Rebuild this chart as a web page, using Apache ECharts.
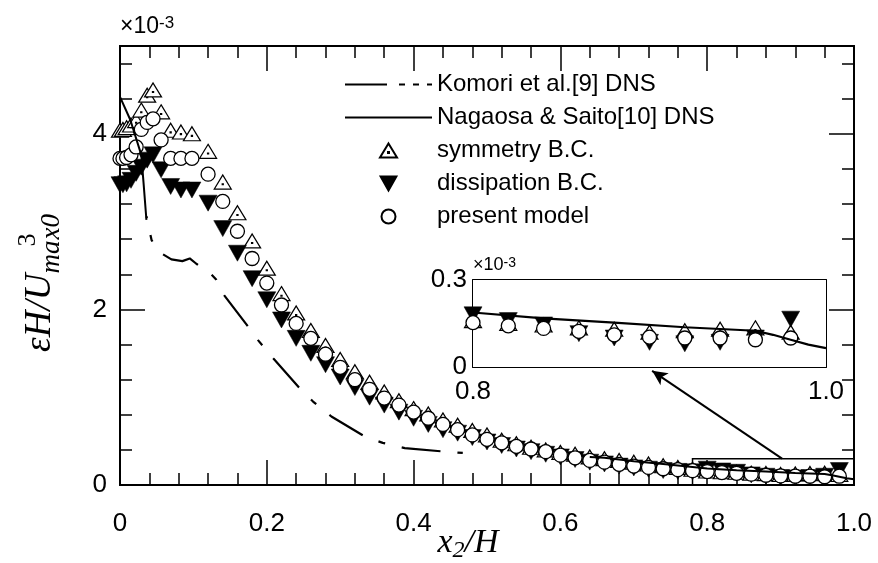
<!DOCTYPE html>
<html><head><meta charset="utf-8">
<script src="https://cdn.jsdelivr.net/npm/echarts@6/dist/echarts.min.js"></script>
<style>html,body{margin:0;padding:0;background:#fff}#c{width:878px;height:563px}</style>
</head><body><div id="c"></div>
<script>
// ---- data (values in units of 1e-3) ----
const xGrid = [0, 0.004, 0.009, 0.015, 0.022, 0.029, 0.037, 0.045, 0.056, 0.069, 0.083, 0.098,
  0.12, 0.14, 0.16, 0.18, 0.20, 0.22, 0.24, 0.26, 0.28, 0.30,
  0.32, 0.34, 0.36, 0.38, 0.40, 0.42, 0.44, 0.46, 0.48, 0.50,
  0.52, 0.54, 0.56, 0.58, 0.60, 0.62, 0.64, 0.66, 0.68, 0.70,
  0.72, 0.74, 0.76, 0.78, 0.80, 0.82, 0.84, 0.86, 0.88, 0.90,
  0.92, 0.94, 0.96, 0.98];
const symmetryBC = [4.04, 4.05, 4.07, 4.10, 4.15, 4.27, 4.44, 4.50, 4.25, 4.04, 4.02, 4.00,
  3.80, 3.45, 3.10, 2.78, 2.47, 2.18, 1.96, 1.76, 1.59, 1.43,
  1.29, 1.17, 1.06, 0.96, 0.87, 0.81, 0.74, 0.68, 0.62, 0.57,
  0.51, 0.47, 0.43, 0.40, 0.37, 0.35, 0.32, 0.30, 0.28, 0.26,
  0.24, 0.22, 0.20, 0.18, 0.16, 0.15, 0.145, 0.135, 0.13, 0.12,
  0.125, 0.13, 0.135, 0.12];
const dissipationBC = [3.42, 3.42, 3.43, 3.47, 3.55, 3.62, 3.70, 3.76, 3.59, 3.40, 3.36, 3.36,
  3.21, 2.92, 2.64, 2.35, 2.11, 1.88, 1.67, 1.50, 1.37, 1.23,
  1.11, 1.00, 0.91, 0.83, 0.76, 0.69, 0.63, 0.59, 0.54, 0.49,
  0.45, 0.41, 0.38, 0.35, 0.32, 0.29, 0.26, 0.24, 0.215, 0.195,
  0.18, 0.165, 0.155, 0.15, 0.18, 0.16, 0.145, 0.115, 0.10, 0.085,
  0.08, 0.085, 0.10, 0.165];
const presentModel = [3.72, 3.72, 3.73, 3.76, 3.85, 4.05, 4.13, 4.17, 3.93, 3.72, 3.72, 3.72,
  3.54, 3.23, 2.89, 2.58, 2.30, 2.05, 1.84, 1.67, 1.49, 1.34,
  1.20, 1.09, 0.99, 0.91, 0.83, 0.76, 0.69, 0.63, 0.57, 0.52,
  0.48, 0.44, 0.41, 0.38, 0.34, 0.31, 0.28, 0.26, 0.235, 0.215,
  0.20, 0.185, 0.175, 0.163, 0.153, 0.142, 0.133, 0.123, 0.111, 0.103,
  0.100, 0.100, 0.094, 0.100];
const komoriX = [0.036, 0.043, 0.054, 0.070, 0.085, 0.095, 0.104, 0.123, 0.131, 0.142, 0.173, 0.188,
  0.209, 0.245, 0.263, 0.288, 0.334, 0.358, 0.388, 0.443, 0.467];
const komoriY = [3.06, 2.79, 2.65, 2.57, 2.55, 2.58, 2.52, 2.41, 2.34, 2.16, 1.82, 1.65,
  1.44, 1.10, 0.95, 0.78, 0.55, 0.48, 0.42, 0.38, 0.365];
const nagaosaX = [0, 0.014, 0.029, 0.032, 0.036, 0.30, 0.64, 0.66, 0.70, 0.74, 0.78, 0.80, 0.84, 0.88, 0.92, 0.96, 0.97, 0.98, 0.99, 1.00];
const nagaosaY = [4.42, 4.16, 3.76, 3.45, 3.02, null, 0.32, 0.31, 0.27, 0.24, 0.205, 0.188, 0.168, 0.153, 0.137, 0.125, 0.111, 0.094, 0.077, 0.065];
const xTickLabels = ['0', '0.2', '0.4', '0.6', '0.8', '1.0'];
const yTickLabels = ['0', '2', '4'];
const insetXTickLabels = ['0.8', '1.0'];
const insetYTickLabels = ['0', '0.3'];
const seriesNames = ['Komori et al.[9] DNS', 'Nagaosa & Saito[10] DNS', 'symmetry B.C.', 'dissipation B.C.', 'present model'];

// ---- build ----
const SANS = '"Liberation Sans", Arial, Helvetica, sans-serif';
const SERIF = '"Liberation Serif", "Times New Roman", serif';
const pts = ys => xGrid.map((x, i) => [x, ys[i]]);
const insetPts = ys => pts(ys).filter(p => p[0] >= 0.799);
const nagaosa = nagaosaX.map((x, i) => [x, nagaosaY[i] == null ? '-' : nagaosaY[i]]);
const komori = komoriX.map((x, i) => [x, komoriY[i]]);

const SYM_UP = 'path://M8.5,0 L17,14 L0,14 Z M8,8.6 L9,8.6 L9,9.6 L8,9.6 Z';
const SYM_DOWN = 'path://M0,0 L18,0 L9,16 Z';
const ICON_KOMORI = 'path://M0,0 L42,0 L42,2 L0,2 Z M54,0 L60,0 L60,2 L54,2 Z M68,0 L74,0 L74,2 L68,2 Z M82,0 L87,0 L87,2 L82,2 Z';
const ICON_NAGAOSA = 'path://M0,0 L87,0 L87,2 L0,2 Z';
const black = '#000';
const axLine = {show: true, onZero: false, lineStyle: {color: black, width: 2}};
const tick = len => ({show: true, inside: true, length: len, lineStyle: {color: black, width: 1.5}});
const noSplit = {show: false};

function mainX(pos, showLabel) {
  return {type: 'value', gridIndex: 0, position: pos, min: 0, max: 1, interval: 0.2,
    axisLine: axLine, axisTick: tick(25),
    minorTick: {show: true, splitNumber: 5, length: 12, lineStyle: {color: black, width: 1.5}},
    splitLine: noSplit, minorSplitLine: noSplit,
    axisLabel: showLabel ? {show: true, margin: 26, color: black, fontFamily: SANS, fontSize: 26,
      formatter: v => xTickLabels[Math.round(v / 0.2)] || ''} : {show: false}};
}
function mainY(pos, interval, len, extra) {
  return Object.assign({type: 'value', gridIndex: 0, position: pos, min: 0, max: 5, interval: interval,
    axisLine: axLine, axisTick: tick(len), splitLine: noSplit, axisLabel: {show: false}}, extra || {});
}
function insetX(pos, showLabel) {
  return {type: 'value', gridIndex: 1, position: pos, min: 0.8, max: 1.0, interval: 0.04,
    axisLine: axLine, axisTick: tick(6), splitLine: noSplit,
    axisLabel: showLabel ? {show: true, margin: 12, color: black, fontFamily: SANS, fontSize: 26,
      showMinLabel: true, showMaxLabel: true,
      formatter: v => Math.abs(v - 0.8) < 1e-6 ? insetXTickLabels[0] : (Math.abs(v - 1) < 1e-6 ? insetXTickLabels[1] : '')} : {show: false}};
}
function insetY(pos, showLabel, extra) {
  return Object.assign({type: 'value', gridIndex: 1, position: pos, min: 0, max: 0.3, interval: 0.1,
    axisLine: axLine, axisTick: tick(6), splitLine: noSplit,
    axisLabel: showLabel ? {show: true, margin: 6, color: black, fontFamily: SANS, fontSize: 26,
      showMinLabel: true, showMaxLabel: true,
      formatter: v => Math.abs(v) < 1e-6 ? insetYTickLabels[0] : (Math.abs(v - 0.3) < 1e-6 ? insetYTickLabels[1] : '')} : {show: false}}, extra || {});
}
const expName = (size) => ({
  nameLocation: 'end', nameMoveOverlap: false,
  nameTextStyle: {align: 'left', color: black, fontFamily: SANS, fontSize: size,
    rich: {s: {fontFamily: SANS, fontSize: Math.round(size * 0.75), verticalAlign: 'top', lineHeight: size, padding: [0, 0, 6, 0]}}}
});

const scatterStyle = {
  up: {symbol: SYM_UP, symbolSize: [17, 14], itemStyle: {color: '#fff', borderColor: black, borderWidth: 1.2, opacity: 1}},
  down: {symbol: SYM_DOWN, symbolSize: [18, 16], itemStyle: {color: black, borderColor: black, borderWidth: 0.5, opacity: 1}},
  circ: {symbol: 'circle', symbolSize: 14, itemStyle: {color: '#fff', borderColor: black, borderWidth: 1.3, opacity: 1}}
};
function scatter(name, data, st, xi, yi, z) {
  return Object.assign({type: 'scatter', name: name, data: data, xAxisIndex: xi, yAxisIndex: yi, z: z,
    clip: false, silent: true}, st);
}

const option = {
  animation: false,
  backgroundColor: '#fff',
  grid: [
    {left: 120, top: 46, width: 734, height: 439, outerBoundsMode: 'none', containLabel: false},
    {left: 473, top: 280, width: 353, height: 87, outerBoundsMode: 'none', containLabel: false,
      show: true, backgroundColor: '#fff', borderWidth: 0, z: 10}
  ],
  legend: {
    orient: 'vertical', left: 340, top: 67, itemWidth: 87, itemHeight: 14, itemGap: 8,
    selectedMode: false, symbolKeepAspect: true,
    textStyle: {color: black, fontFamily: SANS, fontSize: 24, lineHeight: 25, padding: [0, 0, 0, 0]},
    data: [
      {name: seriesNames[0], icon: ICON_KOMORI, itemStyle: {color: black, borderWidth: 0}},
      {name: seriesNames[1], icon: ICON_NAGAOSA, itemStyle: {color: black, borderWidth: 0}},
      {name: seriesNames[2]},
      {name: seriesNames[3]},
      {name: seriesNames[4]}
    ]
  },
  xAxis: [
    Object.assign(mainX('bottom', true), {
      name: '{it|x}{sb|2}{it|/H}', nameLocation: 'middle', nameGap: 38, nameMoveOverlap: false,
      nameTextStyle: {padding: [0, 38, 0, 0], rich: {
        it: {fontFamily: SERIF, fontStyle: 'italic', fontSize: 34, lineHeight: 40, verticalAlign: 'middle', color: black},
        sb: {fontFamily: SERIF, fontStyle: 'italic', fontSize: 24, lineHeight: 24, verticalAlign: 'bottom', color: black}}}
    }),
    mainX('top', false),
    insetX('bottom', true),
    insetX('top', false)
  ],
  yAxis: [
    mainY('left', 2, 25, {
      axisLabel: {show: true, margin: 13, color: black, fontFamily: SANS, fontSize: 26,
        formatter: v => (v === 5 ? '' : (yTickLabels[Math.round(v / 2)] || ''))},
      name: '{it|\u03b5H/U}{sb|ma}{sp|3}{sb|x0}', nameLocation: 'middle', nameRotate: 90, nameGap: 55, nameMoveOverlap: false,
      nameTextStyle: {padding: [0, 35, 0, 0], rich: {
        it: {fontFamily: SERIF, fontStyle: 'italic', fontSize: 37, lineHeight: 50, verticalAlign: 'middle', color: black},
        sb: {fontFamily: SERIF, fontStyle: 'italic', fontSize: 27, lineHeight: 26, verticalAlign: 'bottom', color: black},
        sp: {fontFamily: SERIF, fontSize: 26, lineHeight: 26, width: 1, verticalAlign: 'top', color: black}}}
    }),
    mainY('left', 0.4, 12, Object.assign({name: '\u00d710{s|-3}', nameGap: 8}, expName(23))),
    mainY('right', 2, 25),
    mainY('right', 0.4, 12),
    insetY('left', true, Object.assign({name: '\u00d710{s|-3}', nameGap: 6}, expName(18))),
    insetY('right', false)
  ],
  series: [
    scatter(seriesNames[2], pts(symmetryBC), scatterStyle.up, 0, 0, 2),
    scatter(seriesNames[3], pts(dissipationBC), scatterStyle.down, 0, 0, 3),
    scatter(seriesNames[4], pts(presentModel), scatterStyle.circ, 0, 0, 4),
    {type: 'line', name: seriesNames[0], data: komori, xAxisIndex: 0, yAxisIndex: 0, z: 5,
      symbol: 'none', showSymbol: false, silent: true, itemStyle: {color: black},
      lineStyle: {color: black, width: 2.2, type: [39, 17, 7, 17], dashOffset: 37}},
    {type: 'line', name: seriesNames[1], data: nagaosa, xAxisIndex: 0, yAxisIndex: 0, z: 5,
      symbol: 'none', showSymbol: false, connectNulls: false, silent: true, itemStyle: {color: black},
      lineStyle: {color: black, width: 2}},
    {type: 'line', name: 'annotation', data: [], xAxisIndex: 0, yAxisIndex: 0, z: 6, silent: true,
      markArea: {silent: true, itemStyle: {color: 'rgba(0,0,0,0)', borderColor: black, borderWidth: 1.5},
        data: [[{coord: [0.78, 0]}, {coord: [1.0, 0.3]}]]},
      markLine: {silent: true, symbol: ['none', 'arrow'], symbolSize: [11, 15], label: {show: false},
        lineStyle: {color: black, width: 2, type: 'solid'},
        data: [[{coord: [0.902, 0.30]}, {coord: [0.725, 1.30]}]]}},
    // inset (zoom of the same data)
    scatter(seriesNames[2], insetPts(symmetryBC), scatterStyle.up, 2, 4, 12),
    scatter(seriesNames[3], insetPts(dissipationBC), scatterStyle.down, 2, 4, 13),
    scatter(seriesNames[4], insetPts(presentModel), scatterStyle.circ, 2, 4, 14),
    {type: 'line', name: seriesNames[1], data: nagaosa.filter(p => p[0] >= 0.78), xAxisIndex: 2, yAxisIndex: 4, z: 15,
      symbol: 'none', showSymbol: false, clip: true, silent: true, itemStyle: {color: black},
      lineStyle: {color: black, width: 2.2}}
  ]
};
const chart = echarts.init(document.getElementById('c'));
chart.setOption(option);
</script>
</body></html>
